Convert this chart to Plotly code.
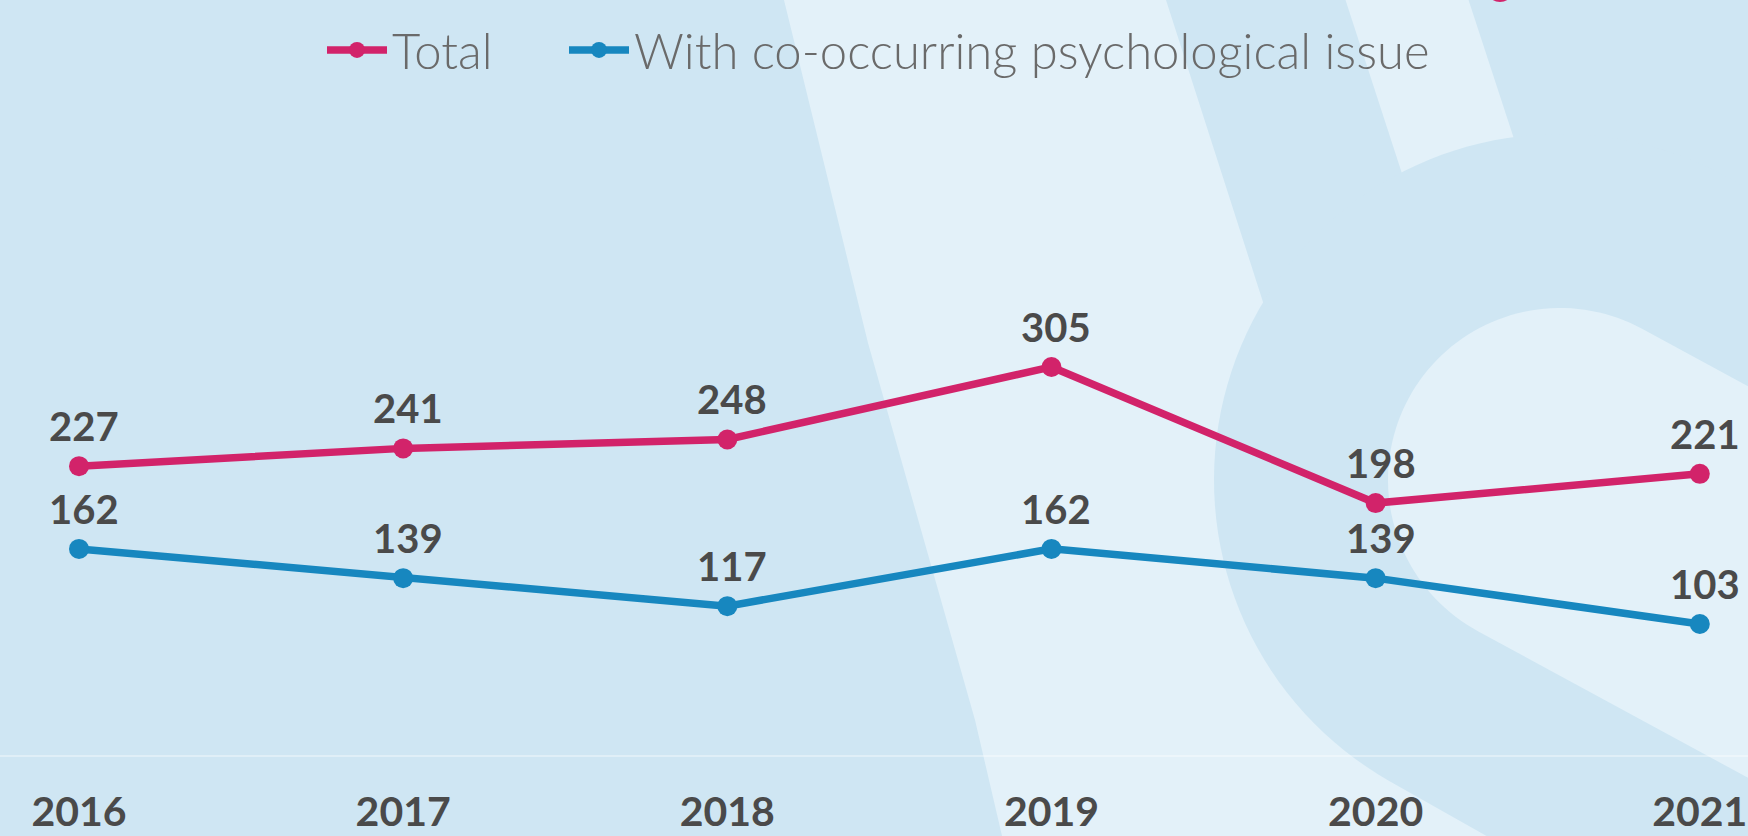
import math
import plotly.graph_objects as go

# ---- data ----
years = [2016, 2017, 2018, 2019, 2020, 2021]
total = [227, 241, 248, 305, 198, 221]
with_psych = [162, 139, 117, 162, 139, 103]
series_names = ["Total", "With co-occurring psychological issue"]
tick_labels = ["2016", "2017", "2018", "2019", "2020", "2021"]

# ---- style ----
W, H = 1748, 836
M_T, M_B = 55, 81
PLOT_H = H - M_T - M_B
PX_PER_UNIT = 1.2723
PINK = "#d2236a"
BLUE = "#1787bf"
BG = "#cfe6f3"
LIGHT = "#e3f1f9"
LABEL = "#4a4a4a"

# background decoration helpers (pixel -> paper)
def P(x, y):
    return x / W, (H - M_B - y) / PLOT_H

def path(pts):
    s = []
    for i, (x, y) in enumerate(pts):
        px, py = P(x, y)
        s.append(("M" if i == 0 else "L") + f"{px:.5f},{py:.5f}")
    return " ".join(s) + " Z"

def stadium(cx, cy, r, theta_deg, length=900, n=80):
    th = math.radians(theta_deg)
    pts = []
    a0 = th + math.pi / 2
    for i in range(n + 1):
        a = a0 + math.pi * i / n
        pts.append((cx + r * math.cos(a), cy + r * math.sin(a)))
    dx, dy = math.cos(th), math.sin(th)
    nx, ny = -math.sin(th), math.cos(th)
    pts.append((cx - r * nx + length * dx, cy - r * ny + length * dy))
    pts.append((cx + r * nx + length * dx, cy + r * ny + length * dy))
    return pts

shapes = []
band = [(780, -20), (1160, -20), (1166, 0), (1263, 302), (1330, 500), (1650, 870),
        (1010, 870), (975, 720), (868, 343), (784, 0)]
shapes.append(dict(type="path", path=path(band), xref="paper", yref="paper",
                   fillcolor=LIGHT, line=dict(width=0), layer="below"))
top_band = [(1339, -20), (1462, -20), (1534, 200), (1422, 235)]
shapes.append(dict(type="path", path=path(top_band), xref="paper", yref="paper",
                   fillcolor=LIGHT, line=dict(width=0), layer="below"))
shapes.append(dict(type="path", path=path(stadium(1560, 480, 346, 29.5)), xref="paper",
                   yref="paper", fillcolor=BG, line=dict(width=0), layer="below"))
shapes.append(dict(type="path", path=path(stadium(1560, 480, 172, 28.5)), xref="paper",
                   yref="paper", fillcolor=LIGHT, line=dict(width=0), layer="below"))
x0, y0 = P(1486, -26)
x1, y1 = P(1514, 2)
shapes.append(dict(type="circle", x0=x0, y0=y0, x1=x1, y1=y1, xref="paper", yref="paper",
                   fillcolor=PINK, line=dict(width=0), layer="below"))

fig = go.Figure()
for name, vals, col, leg in [(series_names[0], total, PINK, "legend"),
                             (series_names[1], with_psych, BLUE, "legend2")]:
    fig.add_trace(go.Scatter(
        x=years, y=vals, name=name, mode="lines+markers",
        line=dict(color=col, width=7.5),
        marker=dict(color=col, size=20),
        hoverinfo="x+y", legend=leg,
    ))

annotations = []
for vals in (total, with_psych):
    for x, v in zip(years, vals):
        annotations.append(dict(
            x=x, y=v, text=str(v), showarrow=False, xref="x", yref="y",
            yshift=40, xshift=5, yanchor="middle", xanchor="center",
            font=dict(family="Lato", size=40, color=LABEL, weight="bold"),
        ))

x_left = years[0] - 79 / 324.16
x_right = years[-1] + 48.2 / 324.16

legend_font = dict(family="Lato", size=49, color="#6a6a6a", weight=300)
legend_common = dict(orientation="h", y=1.007, yanchor="middle", xanchor="left",
                     font=legend_font, bgcolor="rgba(0,0,0,0)", itemwidth=60)

fig.update_layout(
    width=W, height=H,
    margin=dict(l=0, r=0, t=M_T, b=M_B, pad=0),
    paper_bgcolor=BG,
    plot_bgcolor="rgba(0,0,0,0)",
    template="none",
    shapes=shapes,
    annotations=annotations,
    showlegend=True,
    legend=dict(x=322 / W, **legend_common),
    legend2=dict(x=564 / W, **legend_common),
    xaxis=dict(
        range=[x_left, x_right], tickmode="array", tickvals=years, ticktext=tick_labels,
        showgrid=False, zeroline=False, showline=True, linecolor="rgba(255,255,255,0.35)",
        linewidth=2, ticks="outside", ticklen=20, tickcolor="rgba(0,0,0,0)",
        tickfont=dict(family="Lato", size=41, color=LABEL, weight="bold"),
        ticklabeloverflow="allow",
        automargin=False, fixedrange=True,
    ),
    yaxis=dict(
        range=[0, PLOT_H / PX_PER_UNIT], showgrid=False, zeroline=False,
        showticklabels=False, showline=False, automargin=False, fixedrange=True,
    ),
)

fig.write_html(
    "out.html",
    config={"displayModeBar": False},
    post_script="document.body.style.margin='0';document.body.style.padding='0';"
                "document.body.style.overflow='hidden';",
)
